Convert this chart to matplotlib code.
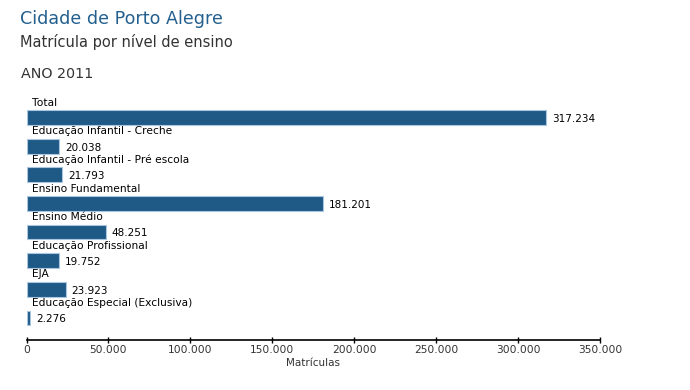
import matplotlib
matplotlib.use('Agg')
import matplotlib.pyplot as plt
from matplotlib.ticker import FuncFormatter

# dados
categorias = ['Total', 'Educação Infantil - Creche', 'Educação Infantil - Pré escola',
              'Ensino Fundamental', 'Ensino Médio', 'Educação Profissional', 'EJA',
              'Educação Especial (Exclusiva)']
matriculas = [317234, 20038, 21793, 181201, 48251, 19752, 23923, 2276]
xticks = [0, 50000, 100000, 150000, 200000, 250000, 300000, 350000]

BAR = '#1f5a87'
TXT = '#333333'

def fmt_br(v, pos=None):
    return '{:,.0f}'.format(v).replace(',', '.')

fig = plt.figure(figsize=(6.9, 3.9), dpi=100)
W, H = 690, 390
# eixo: x 26.5..600 px, y 94..340 px
ax = fig.add_axes([26.5 / W, 1 - 340 / H, (600 - 26.5) / W, (340 - 94) / H])

y = list(range(len(categorias)))
ax.barh(y, matriculas, height=0.52, color=BAR, edgecolor='#a9c6de', linewidth=0.8)
ax.set_xlim(0, 350000)
ax.set_ylim(7.77, -0.82)

for i, (c, v) in enumerate(zip(categorias, matriculas)):
    ax.text(3400, i - 0.52, c, fontsize=7.7, color='black', va='center', ha='left')
    ax.annotate(fmt_br(v), (v, i), xytext=(4, -1), textcoords='offset points',
                fontsize=7.5, color='black', va='center', ha='left')

for s in ['top', 'right', 'left']:
    ax.spines[s].set_visible(False)
ax.spines['bottom'].set_linewidth(1.2)
ax.set_yticks([])
ax.set_xticks(xticks)
ax.xaxis.set_major_formatter(FuncFormatter(fmt_br))
ax.tick_params(axis='x', direction='inout', length=5, width=1, labelsize=7.7,
               labelcolor=TXT, pad=1)
ax.set_xlabel('Matrículas', fontsize=7.5, color=TXT, labelpad=2)

fig.text(20 / W, 1 - 19 / H, 'Cidade de Porto Alegre', fontsize=12.6, color='#24608f',
         va='center', ha='left')
fig.text(20 / W, 1 - 42 / H, 'Matrícula por nível de ensino', fontsize=10.5, color=TXT,
         va='center', ha='left')
fig.text(21 / W, 1 - 74 / H, 'ANO 2011', fontsize=10.3, color=TXT, va='center', ha='left')

fig.savefig('out.png', dpi=100)
